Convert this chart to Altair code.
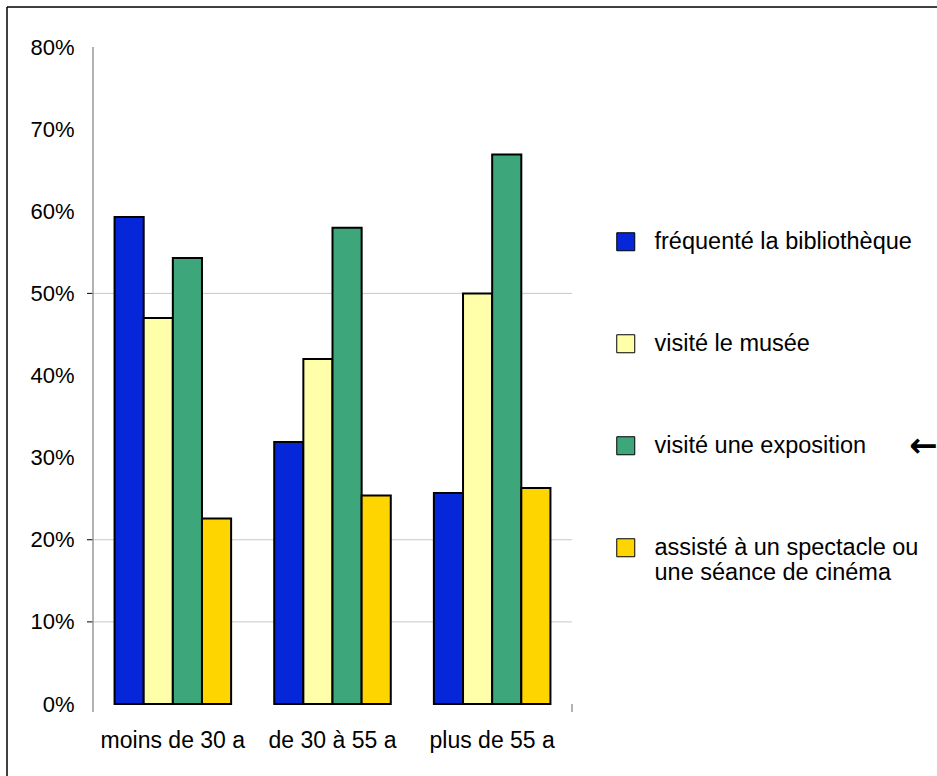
import altair as alt
import pandas as pd

# ---- data ----
groups = ["moins de 30 a", "de 30 à 55 a", "plus de 55 a"]
series = [
    "fréquenté la bibliothèque",
    "visité le musée",
    "visité une exposition",
    "assisté à un spectacle ou une séance de cinéma",
]
colors = ["#0626D9", "#FFFFAA", "#3DA67B", "#FFD500"]
bibliotheque = [0.593, 0.319, 0.257]
musee = [0.470, 0.420, 0.500]
exposition = [0.543, 0.580, 0.669]
spectacle = [0.226, 0.254, 0.263]
y_ticks = [0.0, 0.1, 0.2, 0.3, 0.4, 0.5, 0.6, 0.7, 0.8]
gridlines = [0.1, 0.2, 0.5]

values_by_series = [bibliotheque, musee, exposition, spectacle]
rows = []
for s, vals in zip(series, values_by_series):
    for g, v in zip(groups, vals):
        rows.append({"groupe": g, "serie": s, "valeur": v})
df = pd.DataFrame(rows)
grid_df = pd.DataFrame({"valeur": gridlines})

W, H = 479, 657
FONT = "Liberation Sans"

y_scale = alt.Scale(domain=[0, 0.8], nice=False, zero=True)

label_expr = (
    "datum.label == 'assisté à un spectacle ou une séance de cinéma' ? "
    "['assisté à un spectacle ou', 'une séance de cinéma'] : datum.label"
)

y_axis = alt.Axis(
    values=y_ticks, format=".0%", grid=False, ticks=False, tickSize=0,
    domain=False, labelFontSize=22, labelFont=FONT, labelColor="black",
    labelPadding=19,
)

bars = alt.Chart(df).mark_bar(stroke="black", strokeWidth=2).encode(
    x=alt.X(
        "groupe:N",
        sort=groups,
        title=None,
        scale=alt.Scale(paddingInner=0.27, paddingOuter=0.135),
        axis=alt.Axis(
            labelAngle=0, ticks=False, tickSize=0, domain=False, grid=False,
            labelFontSize=23, labelFont=FONT, labelColor="black", labelPadding=25,
        ),
    ),
    xOffset=alt.XOffset(
        "serie:N", sort=series, scale=alt.Scale(paddingInner=0, paddingOuter=0)
    ),
    y=alt.Y("valeur:Q", scale=y_scale, title=None, axis=y_axis),
    color=alt.Color(
        "serie:N",
        sort=series,
        scale=alt.Scale(domain=series, range=colors),
        legend=alt.Legend(
            title=None, orient="none", legendX=521, legendY=183,
            symbolType="square", symbolSize=324, symbolStrokeColor="black",
            symbolStrokeWidth=1, symbolOpacity=1,
            labelFontSize=23.5, labelFont=FONT, labelColor="black",
            labelOffset=17, rowPadding=77, labelLimit=500, labelExpr=label_expr,
        ),
    ),
)

grid = alt.Chart(grid_df).mark_rule(color="#c8c8c8", strokeWidth=1).encode(
    y=alt.Y("valeur:Q", scale=y_scale, title=None, axis=y_axis),
    x=alt.value(0), x2=alt.value(W),
)
ticks = alt.Chart(grid_df).mark_rule(color="black", strokeWidth=1).encode(
    y=alt.Y("valeur:Q", scale=y_scale, title=None, axis=y_axis),
    x=alt.value(-6), x2=alt.value(0),
)

one = alt.Data(values=[{"k": 0}])
y_axis_line = alt.Chart(one).mark_rule(color="#999999", strokeWidth=1.5).encode(
    x=alt.value(0), y=alt.value(0), y2=alt.value(H + 8)
)
right_tick = alt.Chart(one).mark_rule(color="#999999", strokeWidth=1.5).encode(
    x=alt.value(W), y=alt.value(H), y2=alt.value(H + 8)
)
frame_top = alt.Chart(one).mark_rule(color="black", strokeWidth=1.5).encode(
    x=alt.value(-86), x2=alt.value(844), y=alt.value(-40)
)
frame_left = alt.Chart(one).mark_rule(color="black", strokeWidth=1.5).encode(
    x=alt.value(-86), y=alt.value(-40), y2=alt.value(729)
)
arrow = alt.Chart(one).mark_text(
    text="←", font="DejaVu Sans", fontSize=34, fontWeight="bold",
    align="left", baseline="middle", color="black",
).encode(x=alt.value(816), y=alt.value(400))

chart = alt.layer(
    grid, ticks, bars, y_axis_line, right_tick, frame_top, frame_left, arrow
).properties(
    width=W,
    height=H,
    background="white",
    padding={"left": 93, "top": 47, "right": 365, "bottom": 72},
    autosize=alt.AutoSizeParams(type="none"),
).configure_view(stroke=None).configure_axis(grid=False)

chart.save("out.html", embed_options={"renderer": "svg", "actions": False})
